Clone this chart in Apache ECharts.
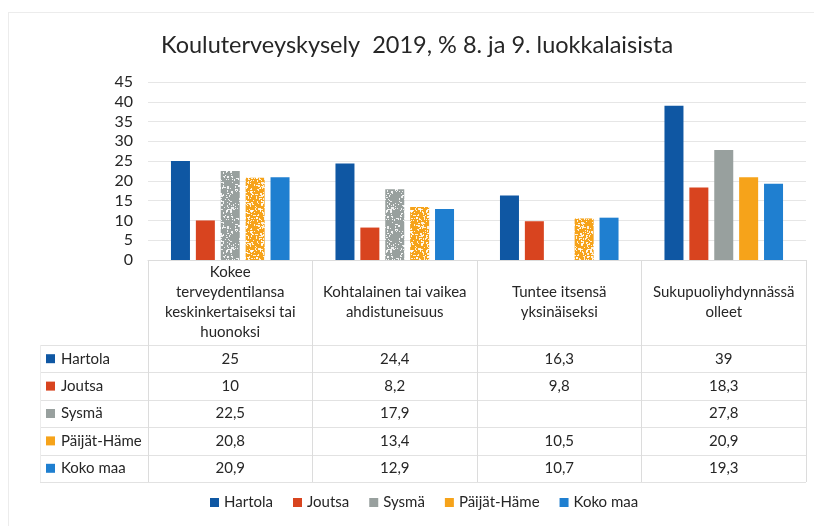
<!DOCTYPE html>
<html>
<head>
<meta charset="utf-8">
<script src="https://cdn.jsdelivr.net/npm/echarts@6/dist/echarts.min.js"></script>
<style>
html,body{margin:0;padding:0;background:#fff;}
#chart{width:814px;height:526px;}
</style>
</head>
<body>
<div id="chart"></div>
<script>
// ---- data ----
const titleText = 'Kouluterveyskysely  2019, % 8. ja 9. luokkalaisista';
const categories = [
  'Kokee\nterveydentilansa\nkeskinkertaiseksi tai\nhuonoksi',
  'Kohtalainen tai vaikea\nahdistuneisuus',
  'Tuntee itsensä\nyksinäiseksi',
  'Sukupuoliyhdynnässä\nolleet'
];
const seriesNames = ['Hartola', 'Joutsa', 'Sysmä', 'Päijät-Häme', 'Koko maa'];
const hartola    = [25, 24.4, 16.3, 39];
const joutsa     = [10, 8.2, 9.8, 18.3];
const sysma      = [22.5, 17.9, null, 27.8];
const paijatHame = [20.8, 13.4, 10.5, 20.9];
const kokoMaa    = [20.9, 12.9, 10.7, 19.3];
const yMin = 0, yMax = 45, yStep = 5;

// ---- styles ----
const FONT = 'Lato';
const TXT = '#262626';
const colors = ['#0f57a3', '#d8441f', '#98a09e', '#f6a31a', '#1f7fd0'];
const patternedSeries = [2, 3];          // speckled fill
const patternedCats = [0, 1, 2];         // categories where pattern is used

// speckled texture (deterministic, purely decorative)
function speckleTexture(base, density) {
  const size = 40;
  const cv = document.createElement('canvas');
  cv.width = size; cv.height = size;
  const ctx = cv.getContext('2d');
  ctx.fillStyle = base;
  ctx.fillRect(0, 0, size, size);
  let seed = 12345;
  const rnd = () => { seed = (seed * 1103515245 + 12345) % 2147483648; return seed / 2147483648; };
  ctx.fillStyle = 'rgba(255,255,255,0.85)';
  for (let i = 0; i < density; i++) {
    const x = Math.floor(rnd() * size), y = Math.floor(rnd() * size);
    const w = rnd() < 0.3 ? 2 : 1, h = rnd() < 0.3 ? 2 : 1;
    ctx.fillRect(x, y, w, h);
  }
  return cv;
}
const textures = {
  2: speckleTexture(colors[2], 200),
  3: speckleTexture(colors[3], 300)
};
const allValues = [hartola, joutsa, sysma, paijatHame, kokoMaa];

const chart = echarts.init(document.getElementById('chart'), null, {renderer: 'canvas'});

const series = allValues.map((vals, si) => ({
  name: seriesNames[si],
  type: 'bar',
  barWidth: 19,
  barGap: '31%',
  itemStyle: { color: colors[si] },
  data: vals.map((v, ci) => {
    if (patternedSeries.includes(si) && patternedCats.includes(ci)) {
      return { value: v, itemStyle: { color: { image: textures[si], repeat: 'repeat' } } };
    }
    return v;
  })
}));

chart.setOption({
  animation: false,
  textStyle: { fontFamily: FONT },
  title: {
    text: titleText,
    left: 156,
    top: 28,
    textStyle: { fontFamily: FONT, fontSize: 23.5, fontWeight: 'normal', color: TXT }
  },
  legend: {
    bottom: 11,
    left: 205,
    itemWidth: 9,
    itemHeight: 9,
    itemGap: 20,
    icon: 'rect',
    textStyle: { fontFamily: FONT, fontSize: 15, color: TXT },
    data: seriesNames.map((n, i) => ({ name: n, itemStyle: { color: colors[i] } }))
  },
  grid: { left: 148, right: 8, top: 82, bottom: 266, containLabel: false },
  xAxis: {
    type: 'category',
    data: categories,
    axisLine: { show: true, lineStyle: { color: '#dcdcdc' } },
    axisTick: { show: true, interval: 0, length: 222, lineStyle: { color: '#dcdcdc' } },
    axisLabel: {
      interval: 0,
      margin: 2,
      fontFamily: FONT,
      fontSize: 15,
      lineHeight: 20,
      color: TXT,
      align: 'center',
      formatter: function (v) {
        const n = v.split('\n').length;
        let pad = '';
        for (let i = 0; i < Math.floor((4 - n) / 2); i++) pad += ' \n';
        return pad + v;
      }
    }
  },
  yAxis: {
    type: 'value',
    min: yMin, max: yMax, interval: yStep,
    axisLine: { show: false },
    axisTick: { show: false },
    splitLine: { lineStyle: { color: '#e6e6e6' } },
    axisLabel: { fontFamily: FONT, fontSize: 16, color: TXT, margin: 15 }
  },
  series: series
});

// ---- data table below the chart ----
const rowTop = 345, rowH = 27.4, tableLeft = 40, tableRight = 806;
const graphics = [];
for (let r = 0; r <= seriesNames.length; r++) {
  const y = Math.round(rowTop + r * rowH) + 0.5;
  graphics.push({
    type: 'line', silent: true,
    shape: { x1: tableLeft, y1: y, x2: tableRight, y2: y },
    style: { stroke: '#e2e2e2', lineWidth: 1 }
  });
}
graphics.push({
  type: 'line', silent: true,
  shape: { x1: tableLeft + 0.5, y1: rowTop, x2: tableLeft + 0.5, y2: rowTop + rowH * seriesNames.length },
  style: { stroke: '#ececec', lineWidth: 1 }
});
seriesNames.forEach((name, r) => {
  const cy = rowTop + (r + 0.5) * rowH;
  graphics.push({
    type: 'rect', silent: true,
    shape: { x: 46, y: cy - 4.5, width: 9, height: 9 },
    style: { fill: colors[r] }
  });
  graphics.push({
    type: 'text', silent: true,
    style: { x: 61, y: cy, text: name, verticalAlign: 'middle', textVerticalAlign: 'middle',
      font: '15px ' + FONT, fill: TXT }
  });
  allValues[r].forEach((v, c) => {
    if (v === null || v === undefined) return;
    const px = chart.convertToPixel({ xAxisIndex: 0 }, c);
    graphics.push({
      type: 'text', silent: true,
      style: { x: px, y: cy, text: String(v).replace('.', ','), align: 'center', textAlign: 'center',
        verticalAlign: 'middle', textVerticalAlign: 'middle', font: '15px ' + FONT, fill: TXT }
    });
  });
});
// faint outer frame
graphics.push({ type: 'line', silent: true, shape: { x1: 8, y1: 12.5, x2: 814, y2: 12.5 }, style: { stroke: '#ececec', lineWidth: 1 } });
graphics.push({ type: 'line', silent: true, shape: { x1: 8.5, y1: 12, x2: 8.5, y2: 526 }, style: { stroke: '#ececec', lineWidth: 1 } });

chart.setOption({ graphic: graphics });
</script>
</body>
</html>
